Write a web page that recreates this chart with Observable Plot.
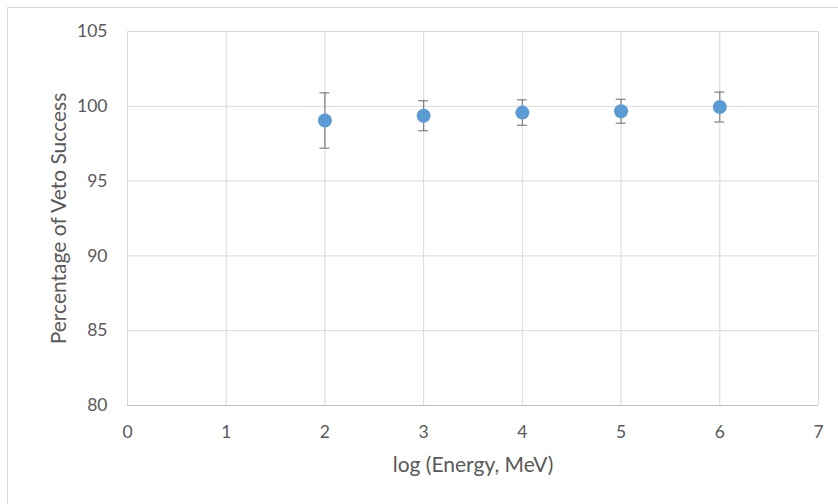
<!DOCTYPE html>
<html>
<head>
<meta charset="utf-8">
<script src="https://cdn.jsdelivr.net/npm/d3@7"></script>
<script src="https://cdn.jsdelivr.net/npm/@observablehq/plot@0.6"></script>
<style>
  html, body { margin: 0; padding: 0; background: #fff; }
  #wrap { position: relative; width: 838px; height: 504px; overflow: hidden; }
  #border { position: absolute; left: 7px; top: 7px; width: 840px; height: 510px; border: 1px solid #d9d9d9; box-sizing: border-box; }
  #chart { position: absolute; left: 0; top: 0; }
  #chart g[aria-label="x-axis label"] text, #chart g[aria-label="y-axis label"] text { font-size: 21px; }
</style>
</head>
<body>
<div id="wrap"><div id="border"></div><div id="chart"></div></div>
<script>
const logEnergy = [2, 3, 4, 5, 6];
const vetoPercent = [99.05, 99.37, 99.58, 99.67, 99.95];
const errorAmount = [1.85, 1.0, 0.85, 0.8, 1.0];
const xTicks = [0, 1, 2, 3, 4, 5, 6, 7];
const yTicks = [80, 85, 90, 95, 100, 105];

const data = logEnergy.map((x, i) => ({x, y: vetoPercent[i], e: errorAmount[i]}));
const capHalf = 0.05;

const plot = Plot.plot({
  width: 838,
  height: 504,
  marginLeft: 127,
  marginRight: 20,
  marginTop: 31,
  marginBottom: 99,
  style: {fontFamily: "Lato, 'Open Sans', sans-serif", fontSize: "17.5px", color: "#595959", background: "transparent"},
  x: {domain: [0, 7]},
  y: {domain: [80, 105]},
  marks: [
    Plot.gridX(xTicks, {stroke: "#d9d9d9", strokeOpacity: 1}),
    Plot.gridY(yTicks, {stroke: "#d9d9d9", strokeOpacity: 1}),
    Plot.ruleY([80], {stroke: "#bfbfbf"}),
    Plot.axisX(xTicks, {tickSize: 0, tickPadding: 20, fontSize: 17.5, label: "log (Energy, MeV)", labelAnchor: "center", labelArrow: "none", labelOffset: 66}),
    Plot.axisY(yTicks, {tickSize: 0, tickPadding: 20, fontSize: 17.5, label: "Percentage of Veto Success", labelAnchor: "center", labelArrow: "none", labelOffset: 76}),
    Plot.ruleX(data, {x: "x", y1: d => d.y - d.e, y2: d => d.y + d.e, stroke: "#7f7f7f", strokeWidth: 1.2}),
    Plot.ruleY(data, {y: d => d.y + d.e, x1: d => d.x - capHalf, x2: d => d.x + capHalf, stroke: "#7f7f7f", strokeWidth: 1.2}),
    Plot.ruleY(data, {y: d => d.y - d.e, x1: d => d.x - capHalf, x2: d => d.x + capHalf, stroke: "#7f7f7f", strokeWidth: 1.2}),
    Plot.dot(data, {x: "x", y: "y", r: 7, fill: "#5b9bd5", stroke: "none"})
  ]
});
document.getElementById("chart").appendChild(plot);
</script>
</body>
</html>
